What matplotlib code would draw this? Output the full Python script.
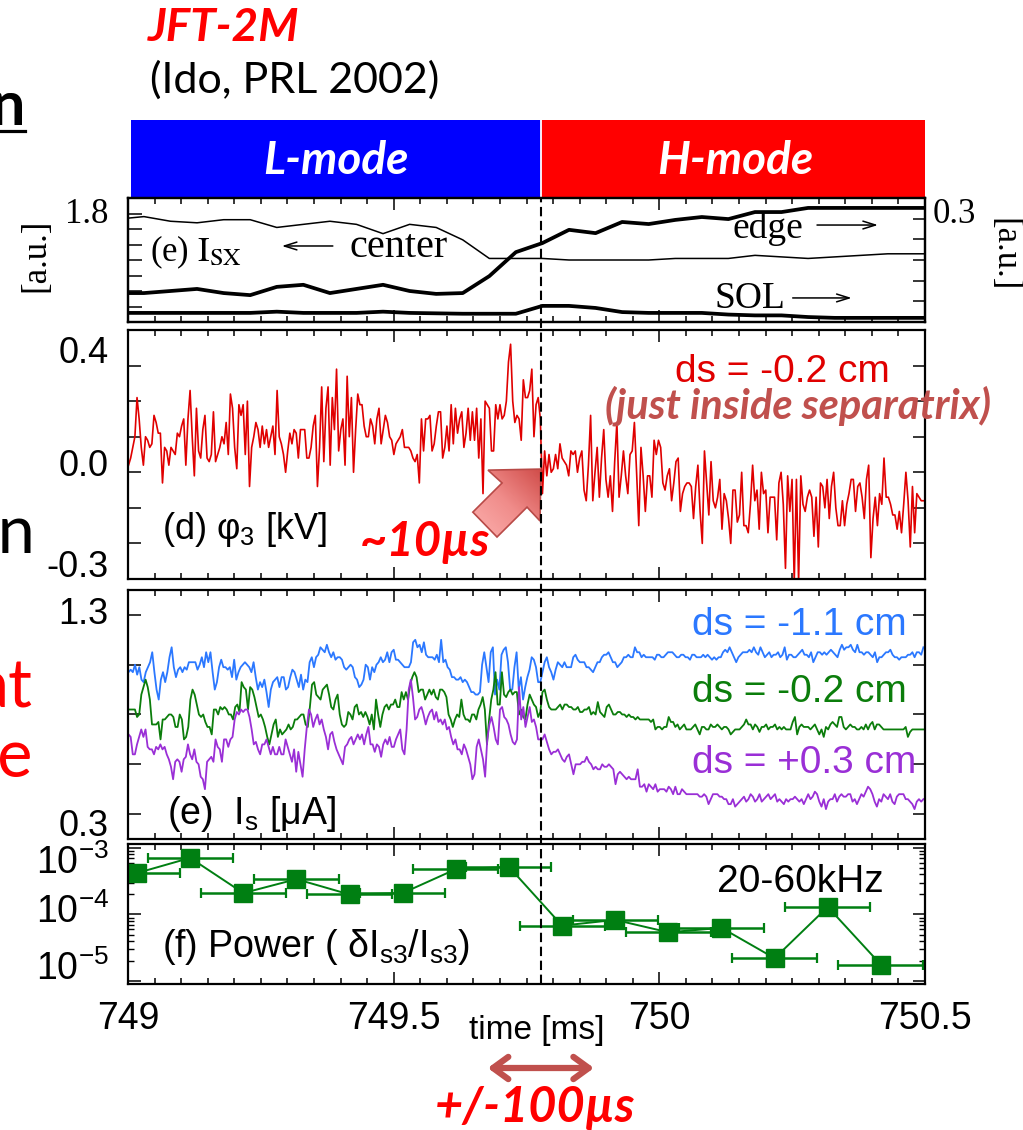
import numpy as np
import matplotlib
matplotlib.use("Agg")
import matplotlib.pyplot as plt
import matplotlib.transforms as mtransforms
from matplotlib.patches import Polygon
from matplotlib.lines import Line2D
from matplotlib.colors import LinearSegmentedColormap
from matplotlib.ticker import MultipleLocator

plt.rcParams['font.family'] = ['Liberation Sans', 'DejaVu Sans']
plt.rcParams['mathtext.fontset'] = 'custom'
plt.rcParams['mathtext.rm'] = 'Liberation Sans'
plt.rcParams['mathtext.it'] = 'Liberation Sans:italic'
plt.rcParams['mathtext.bf'] = 'Liberation Sans:bold'

PPT = ['Lato', 'DejaVu Sans']
SERIF = ['Liberation Serif', 'DejaVu Serif']

t_LH = 749.777   # L-H transition [ms]

# ---- (e) soft x-ray, every ~50 us
t_sx = [749.0, 749.03, 749.08, 749.13, 749.18, 749.23, 749.28, 749.33, 749.38, 749.43,
        749.48, 749.53, 749.58, 749.63, 749.68, 749.73, 749.78, 749.83, 749.88, 749.93,
        749.98, 750.03, 750.08, 750.13, 750.18, 750.23, 750.28, 750.33, 750.38, 750.43, 750.5]
sx_center = [1.67, 1.68, 1.65, 1.64, 1.66, 1.66, 1.61, 1.63, 1.65, 1.63,
             1.57, 1.63, 1.61, 1.53, 1.41, 1.41, 1.41, 1.40, 1.40, 1.40,
             1.40, 1.41, 1.41, 1.41, 1.43, 1.42, 1.41, 1.42, 1.43, 1.44, 1.44]
sx_edge = [0.070, 0.070, 0.075, 0.080, 0.070, 0.065, 0.085, 0.090, 0.070, 0.080,
           0.090, 0.075, 0.068, 0.070, 0.111, 0.169, 0.191, 0.223, 0.215, 0.242,
           0.237, 0.247, 0.254, 0.249, 0.266, 0.266, 0.276, 0.276, 0.276, 0.276, 0.276]
sx_sol = [0.022, 0.022, 0.022, 0.022, 0.022, 0.022, 0.025, 0.022, 0.022, 0.022,
          0.025, 0.022, 0.021, 0.020, 0.020, 0.020, 0.039, 0.039, 0.034, 0.024,
          0.022, 0.022, 0.022, 0.018, 0.016, 0.016, 0.012, 0.010, 0.010, 0.010, 0.010]

# ---- (d) floating potential phi3 [kV], L-mode part and H-mode part
phi3_L = [0.02, 0.04, 0.07, 0.10, 0.21, 0.15, 0.07, 0.02, 0.10, 0.09,
          0.07, 0.08, 0.16, 0.14, 0.11, 0.11, -0.03, 0.07, 0.06, 0.02,
          0.07, 0.06, 0.05, 0.11, 0.10, 0.13, 0.15, 0.02, 0.15, 0.23,
          0.10, -0.01, 0.18, 0.06, 0.04, 0.12, 0.16, 0.04, 0.03, 0.05,
          0.17, 0.03, 0.05, 0.07, 0.10, 0.08, 0.14, 0.05, 0.22, 0.18,
          0.07, 0.01, 0.19, 0.16, 0.19, 0.05, 0.20, -0.04, 0.07, 0.10,
          0.14, 0.12, 0.07, 0.13, 0.08, 0.12, 0.07, 0.10, 0.13, 0.05,
          0.23, 0.10, 0.08, 0.05, 0.00, 0.06, 0.11, 0.08, 0.12, 0.11,
          0.04, 0.12, 0.12, 0.12, 0.04, 0.04, 0.07, 0.13, 0.16, -0.04,
          0.07, 0.24, 0.03, 0.18, 0.24, 0.02, 0.21, 0.12, 0.29, 0.06,
          0.12, 0.15, 0.02, 0.27, 0.10, 0.21, 0.00, 0.12, 0.22, 0.19,
          0.19, 0.13, 0.10, 0.10, 0.15, 0.13, 0.08, 0.15, 0.18, 0.08,
          0.12, 0.16, 0.14, 0.10, 0.09, 0.05, 0.08, 0.09, 0.10, 0.12,
          0.07, 0.07, 0.07, 0.06, 0.04, 0.03, 0.05, -0.03, 0.15, 0.06,
          0.15, 0.15, 0.16, 0.06, 0.08, 0.13, 0.17, 0.17, 0.04, 0.07,
          0.13, 0.06, 0.19, 0.08, 0.18, 0.11, 0.15, 0.17, 0.07, 0.11,
          0.18, 0.09, 0.17, 0.09, 0.18, 0.04, 0.15, -0.06, 0.20, 0.19,
          0.18, 0.06, 0.06, 0.19, 0.15, 0.19, 0.15, 0.16, 0.20, 0.31,
          0.36, 0.20, 0.14, 0.16, 0.15,
          0.09, 0.26, 0.21, 0.21, 0.23, 0.29, 0.10, 0.19, 0.21, 0.15]
phi3_H = [-0.06, 0.06, -0.01, 0.05, 0.00, 0.01, 0.05, 0.01, 0.08, 0.04,
          0.03, 0.02, -0.01, 0.06, 0.05, 0.06, 0.00, 0.04, 0.06, -0.05,
          -0.08, 0.02, 0.16, -0.08, 0.00, 0.07, -0.07, 0.04, 0.12, -0.02,
          -0.07, -0.01, -0.11, 0.03, 0.14, -0.07, -0.01, 0.06, -0.01, -0.06,
          0.05, 0.06, 0.14, 0.00, -0.15, 0.07, -0.01, -0.11, -0.01, -0.01,
          -0.07, 0.09, 0.05, 0.09, 0.07, -0.03, -0.05, -0.01, 0.01, -0.08,
          -0.03, 0.03, 0.04, -0.11, -0.06, -0.04, -0.03, -0.03, -0.04, -0.13,
          -0.04, 0.02, -0.11, -0.20, 0.06, -0.03, -0.12, 0.03, -0.08, -0.10,
          -0.07, -0.02, -0.16, -0.06, -0.08, -0.13, -0.20, -0.05, -0.05, -0.14,
          -0.12, 0.00, -0.15, -0.15, -0.17, -0.09, 0.02, -0.08, -0.05, -0.16,
          0.00, -0.06, -0.05, -0.17, -0.07, -0.07, -0.07, -0.19, -0.03, 0.00,
          -0.09, -0.27, -0.01, -0.11, -0.02, -0.31, -0.02, -0.31, -0.01, -0.09,
          -0.11, -0.07, -0.05, -0.07, -0.18, -0.07, -0.21, -0.03, -0.04, -0.10,
          -0.02, -0.13, -0.04, 0.00, -0.10, -0.15, -0.15, -0.08, -0.15, -0.09,
          -0.06, -0.02, -0.02, -0.11, -0.04, -0.03, -0.07, -0.13, -0.02, 0.02,
          -0.24, -0.13, -0.07, -0.15, -0.06, -0.09, 0.04, -0.07, -0.07, -0.09,
          -0.12, -0.12, -0.16, -0.11, -0.17, -0.09, 0.00, -0.08, -0.21, -0.04,
          -0.17, -0.06, -0.07, -0.08, -0.08]

# ---- (e) ion saturation current Is [uA] at three probe positions
Is_m11_L = [0.97, 0.98, 0.97, 1.00, 0.96, 0.99, 0.94, 0.93, 0.97, 0.99,
            1.01, 1.05, 0.97, 0.90, 0.86, 0.94, 0.97, 0.93, 0.97, 1.03,
            1.07, 0.99, 0.95, 0.98, 0.99, 0.97, 0.99, 0.98, 1.01, 1.01,
            1.01, 1.01, 0.98, 1.00, 1.03, 0.99, 1.05, 1.01, 1.05, 0.97,
            0.90, 0.93, 0.99, 1.02, 0.99, 0.99, 0.98, 0.99, 0.95, 1.02,
            0.94, 0.97, 0.99, 1.00, 1.01, 1.00, 0.99, 0.97, 1.01, 0.95,
            0.90, 0.93, 0.91, 0.94, 0.89, 0.83, 0.90, 0.93, 0.94, 0.95,
            0.91, 0.95, 0.95, 0.90, 0.91, 0.95, 0.98, 0.97, 0.94, 0.91,
            0.96, 0.90, 0.94, 0.93, 1.01, 1.03, 0.99, 1.03, 1.04, 1.07,
            1.06, 1.05, 1.08, 1.05, 1.03, 1.05, 1.02, 1.03, 1.03, 1.02,
            0.99, 0.98, 0.99, 1.00, 0.99, 0.95, 0.94, 0.91, 0.92, 0.94,
            1.00, 0.99, 0.94, 0.99, 0.97, 1.00, 1.01, 1.03, 1.01, 1.02,
            1.05, 1.01, 1.05, 1.06, 1.02, 1.02, 1.01, 1.00, 0.99, 0.99,
            0.99, 1.01, 1.09, 1.10, 1.07, 1.08, 1.05, 1.09, 1.04, 1.03,
            1.03, 1.03, 1.02, 1.04, 1.01, 1.10, 1.01, 1.02, 0.99, 0.98,
            0.95, 0.95, 0.94, 0.94, 0.95, 0.93, 0.94, 0.93, 0.91, 0.89,
            0.89, 0.88, 0.88, 0.89, 1.00, 1.05, 0.99, 0.93, 1.05, 1.07,
            0.88, 0.94, 0.90,
            1.04, 1.06, 1.07, 1.01, 0.90, 0.90, 0.99, 1.05, 0.90, 0.95,
            0.86, 0.91, 0.95, 0.98, 1.03, 1.02, 0.99, 0.93, 0.93]
Is_m11_H = [0.97, 1.01, 1.03, 0.99, 0.97, 0.94, 0.98, 1.01, 1.00, 0.99,
            1.01, 0.99, 0.99, 0.99, 1.03, 1.04, 1.02, 1.01, 1.01, 1.01,
            0.99, 0.99, 0.98, 0.97, 0.99, 1.01, 1.01, 1.03, 1.04, 1.04,
            1.05, 1.03, 1.01, 1.01, 0.99, 1.00, 1.01, 1.03, 1.03, 1.04,
            1.03, 1.03, 1.07, 1.05, 1.05, 1.03, 1.04, 1.03, 1.03, 1.03,
            1.03, 1.02, 1.04, 1.04, 1.03, 1.03, 1.04, 1.05, 1.05, 1.05,
            1.04, 1.03, 1.03, 1.04, 1.04, 1.03, 1.03, 1.02, 1.04, 1.04,
            1.03, 1.03, 1.03, 1.04, 1.03, 1.04, 1.03, 1.02, 1.03, 1.02,
            1.03, 1.03, 1.05, 1.06, 1.05, 1.07, 1.05, 1.03, 1.01, 1.03,
            1.04, 1.05, 1.05, 1.05, 1.06, 1.05, 1.07, 1.05, 1.04, 1.07,
            1.05, 1.03, 1.04, 1.05, 1.03, 1.04, 1.04, 1.05, 1.03, 1.04,
            1.07, 1.02, 1.04, 1.04, 1.03, 1.03, 1.04, 1.05, 1.06, 1.04,
            1.04, 1.03, 1.05, 1.01, 1.03, 1.05, 1.05, 1.04, 1.05, 1.04,
            1.05, 1.06, 1.05, 1.04, 1.03, 1.06, 1.08, 1.06, 1.07, 1.07,
            1.08, 1.06, 1.05, 1.08, 1.05, 1.05, 1.04, 1.05, 1.05, 1.04,
            1.03, 1.05, 1.01, 1.03, 1.03, 1.04, 1.05, 1.05, 1.06, 1.04,
            1.03, 1.03, 1.02, 1.03, 1.03, 1.03, 1.04, 1.04, 1.05, 1.03,
            1.05, 1.05, 1.04, 1.07]
Is_m02_L = [0.82, 0.82, 0.82, 0.82, 0.79, 0.80, 0.88, 0.91, 0.94, 0.91,
            0.86, 0.76, 0.76, 0.76, 0.77, 0.70, 0.78, 0.78, 0.79, 0.80,
            0.80, 0.79, 0.75, 0.75, 0.80, 0.78, 0.70, 0.71, 0.75, 0.86,
            0.90, 0.88, 0.84, 0.80, 0.79, 0.80, 0.77, 0.75, 0.75, 0.72,
            0.82, 0.82, 0.80, 0.83, 0.82, 0.83, 0.82, 0.80, 0.80, 0.78,
            0.83, 0.84, 0.81, 0.93, 0.91, 0.90, 0.82, 0.91, 0.90, 0.87,
            0.83, 0.79, 0.80, 0.78, 0.75, 0.71, 0.68, 0.72, 0.76, 0.78,
            0.71, 0.74, 0.72, 0.73, 0.74, 0.76, 0.74, 0.75, 0.78, 0.78,
            0.79, 0.80, 0.80, 0.76, 0.75, 0.83, 0.92, 0.93, 0.88, 0.87,
            0.86, 0.90, 0.91, 0.92, 0.88, 0.83, 0.82, 0.86, 0.88, 0.80,
            0.76, 0.75, 0.76, 0.81, 0.80, 0.78, 0.83, 0.84, 0.80, 0.81,
            0.79, 0.81, 0.79, 0.76, 0.80, 0.74, 0.86, 0.80, 0.75, 0.80,
            0.83, 0.84, 0.82, 0.84, 0.84, 0.86, 0.83, 0.83, 0.89, 0.86,
            0.89, 0.86, 0.92, 0.95, 0.97, 0.95, 0.89, 0.90, 0.90, 0.86,
            0.88, 0.90, 0.88, 0.90, 0.87, 0.86, 0.90, 0.90, 0.89, 0.87,
            0.80, 0.78, 0.75, 0.78, 0.80, 0.79, 0.86, 0.80, 0.78, 0.78,
            0.77, 0.80, 0.80, 0.78, 0.82, 0.84, 0.87, 0.82, 0.68, 0.78,
            0.86, 0.90, 0.97, 0.84, 0.84,
            0.97, 0.88, 0.87, 0.89, 0.90, 0.88, 0.89, 0.89, 0.80, 0.82,
            0.79, 0.78, 0.84, 0.88, 0.86, 0.84, 0.83, 0.79, 0.81]
Is_m02_H = [0.89, 0.90, 0.86, 0.83, 0.82, 0.82, 0.82, 0.83, 0.84, 0.82,
            0.84, 0.84, 0.83, 0.83, 0.82, 0.82, 0.83, 0.81, 0.81, 0.82,
            0.82, 0.83, 0.80, 0.81, 0.80, 0.85, 0.81, 0.80, 0.79, 0.83,
            0.84, 0.82, 0.80, 0.80, 0.81, 0.81, 0.80, 0.80, 0.79, 0.80,
            0.79, 0.79, 0.78, 0.79, 0.78, 0.78, 0.78, 0.78, 0.78, 0.77,
            0.78, 0.74, 0.75, 0.75, 0.74, 0.75, 0.75, 0.79, 0.77, 0.77,
            0.75, 0.76, 0.74, 0.75, 0.76, 0.74, 0.74, 0.74, 0.75, 0.76,
            0.74, 0.72, 0.75, 0.75, 0.74, 0.74, 0.76, 0.75, 0.75, 0.76,
            0.75, 0.74, 0.75, 0.75, 0.74, 0.72, 0.73, 0.74, 0.74, 0.74,
            0.75, 0.76, 0.78, 0.76, 0.76, 0.74, 0.76, 0.75, 0.73, 0.75,
            0.75, 0.76, 0.74, 0.75, 0.75, 0.76, 0.74, 0.75, 0.74, 0.75,
            0.74, 0.74, 0.74, 0.77, 0.79, 0.72, 0.75, 0.76, 0.75, 0.75,
            0.75, 0.74, 0.75, 0.76, 0.74, 0.72, 0.74, 0.71, 0.75, 0.74,
            0.76, 0.77, 0.76, 0.75, 0.79, 0.79, 0.75, 0.74, 0.75, 0.76,
            0.75, 0.75, 0.74, 0.74, 0.75, 0.74, 0.76, 0.74, 0.76, 0.77,
            0.74, 0.76, 0.76, 0.75, 0.74, 0.74, 0.74, 0.74, 0.74, 0.74,
            0.74, 0.74, 0.74, 0.74, 0.75, 0.71, 0.73, 0.74, 0.74, 0.74,
            0.74, 0.74, 0.74]
Is_p03_L = [0.72, 0.71, 0.64, 0.64, 0.68, 0.71, 0.74, 0.71, 0.74, 0.67,
            0.66, 0.66, 0.64, 0.67, 0.66, 0.68, 0.66, 0.67, 0.64, 0.62,
            0.59, 0.54, 0.61, 0.62, 0.61, 0.57, 0.62, 0.63, 0.68, 0.64,
            0.62, 0.66, 0.61, 0.60, 0.55, 0.54, 0.50, 0.61, 0.62, 0.63,
            0.61, 0.70, 0.67, 0.66, 0.61, 0.70, 0.70, 0.67, 0.70, 0.71,
            0.78, 0.81, 0.80, 0.82, 0.81, 0.82, 0.82, 0.79, 0.74, 0.68,
            0.69, 0.66, 0.64, 0.68, 0.68, 0.70, 0.67, 0.64, 0.67, 0.64,
            0.64, 0.67, 0.64, 0.64, 0.70, 0.67, 0.64, 0.61, 0.66, 0.57,
            0.65, 0.60, 0.55, 0.66, 0.75, 0.82, 0.80, 0.75, 0.78, 0.80,
            0.76, 0.78, 0.74, 0.71, 0.66, 0.72, 0.73, 0.69, 0.66, 0.64,
            0.62, 0.60, 0.67, 0.68, 0.70, 0.71, 0.68, 0.70, 0.72, 0.70,
            0.72, 0.68, 0.72, 0.75, 0.68, 0.68, 0.65, 0.68, 0.67, 0.63,
            0.68, 0.70, 0.68, 0.71, 0.67, 0.67, 0.70, 0.72, 0.74, 0.66,
            0.64, 0.74, 0.90, 0.94, 0.87, 0.78, 0.79, 0.82, 0.83, 0.80,
            0.76, 0.79, 0.81, 0.82, 0.78, 0.81, 0.77, 0.78, 0.76, 0.78,
            0.74, 0.75, 0.71, 0.68, 0.70, 0.66, 0.66, 0.64, 0.68, 0.66,
            0.63, 0.60, 0.54, 0.56, 0.67, 0.70, 0.66, 0.62, 0.55, 0.70,
            0.76, 0.79, 0.75, 0.70, 0.68,
            0.82, 0.83, 0.79, 0.78, 0.76, 0.72, 0.69, 0.68, 0.70, 0.91,
            0.78, 0.83, 0.75, 0.79, 0.83, 0.77, 0.78, 0.75, 0.70, 0.70]
Is_p03_H = [0.70, 0.72, 0.69, 0.66, 0.64, 0.65, 0.65, 0.66, 0.64, 0.62,
            0.61, 0.63, 0.64, 0.60, 0.56, 0.60, 0.60, 0.60, 0.61, 0.61,
            0.63, 0.61, 0.60, 0.58, 0.59, 0.58, 0.58, 0.60, 0.59, 0.59,
            0.60, 0.59, 0.58, 0.52, 0.56, 0.57, 0.56, 0.55, 0.54, 0.55,
            0.54, 0.54, 0.54, 0.58, 0.51, 0.51, 0.52, 0.49, 0.52, 0.51,
            0.50, 0.52, 0.49, 0.50, 0.50, 0.50, 0.49, 0.51, 0.50, 0.48,
            0.51, 0.48, 0.48, 0.50, 0.49, 0.48, 0.48, 0.48, 0.48, 0.48,
            0.48, 0.47, 0.47, 0.48, 0.47, 0.44, 0.46, 0.48, 0.48, 0.48,
            0.47, 0.47, 0.46, 0.46, 0.44, 0.44, 0.46, 0.43, 0.44, 0.45,
            0.46, 0.47, 0.45, 0.46, 0.48, 0.47, 0.45, 0.46, 0.48, 0.45,
            0.46, 0.47, 0.48, 0.46, 0.47, 0.48, 0.45, 0.46, 0.45, 0.44,
            0.46, 0.45, 0.46, 0.46, 0.47, 0.46, 0.45, 0.46, 0.44, 0.46,
            0.48, 0.46, 0.47, 0.49, 0.48, 0.45, 0.43, 0.46, 0.42, 0.45,
            0.46, 0.46, 0.48, 0.45, 0.47, 0.48, 0.47, 0.47, 0.48, 0.48,
            0.45, 0.46, 0.44, 0.46, 0.48, 0.47, 0.49, 0.51, 0.50, 0.48,
            0.45, 0.43, 0.46, 0.45, 0.48, 0.47, 0.46, 0.48, 0.45, 0.44,
            0.47, 0.48, 0.48, 0.48, 0.46, 0.46, 0.45, 0.44, 0.42, 0.45,
            0.46, 0.45, 0.46]

# ---- (f) fluctuation power of Is3 (20-60 kHz), 200 us windows
t_pow = [749.017, 749.117, 749.217, 749.317, 749.417, 749.517, 749.617, 749.717,
         749.817, 749.917, 750.017, 750.117, 750.217, 750.317, 750.417]
pow_val = [4.2e-4, 7.1e-4, 2.1e-4, 3.4e-4, 2.0e-4, 2.1e-4, 4.8e-4, 5.2e-4,
           6.8e-5, 8.3e-5, 5.4e-5, 6.3e-5, 2.2e-5, 1.3e-4, 1.76e-5]
pow_xerr = 0.08


def seg_time(vals, t0, t1):
    # sample times of an evenly sampled record
    return np.linspace(t0, t1, len(vals))


def join(L, H):
    t = np.concatenate([seg_time(L, 749.001, 749.776), seg_time(H, 749.780, 750.497)])
    return t, np.concatenate([L, H])


W_PX, H_PX = 1023, 1130
fig = plt.figure(figsize=(W_PX / 100, H_PX / 100), dpi=100)
fig.patch.set_facecolor('white')


def box(top, bottom, left=128, right=925):
    return [left / W_PX, 1 - bottom / H_PX, (right - left) / W_PX, (bottom - top) / H_PX]


ax_band = fig.add_axes(box(120, 197))
ax_sx = fig.add_axes(box(198, 322))
ax_d = fig.add_axes(box(330, 579))
ax_e = fig.add_axes(box(590, 839))
ax_f = fig.add_axes(box(844, 984))


def style(ax, ylen=9):
    ax.set_xlim(749, 750.5)
    ax.set_xticks([749, 749.5, 750, 750.5])
    ax.xaxis.set_minor_locator(MultipleLocator(0.05))
    ax.tick_params(which='both', direction='in', top=True, right=True, width=1.1,
                   labelbottom=False, labelleft=False)
    ax.tick_params(axis='x', which='major', length=8.5)
    ax.tick_params(axis='x', which='minor', length=4.3)
    ax.tick_params(axis='y', which='major', length=ylen)
    for s in ax.spines.values():
        s.set_linewidth(1.6)


def ylab(ax, s, y, va, side='left', size=26, **kw):
    x = -0.024 if side == 'left' else 1.009
    ax.text(x, y, s, transform=ax.transAxes, ha='right' if side == 'left' else 'left',
            va=va, fontsize=size, **kw)


# ---- band L-mode / H-mode
ax_band.set_xlim(749, 750.5)
ax_band.set_ylim(0, 1)
ax_band.axvspan(749.005, t_LH, color='#0000ff', lw=0)
ax_band.axvspan(t_LH, 750.5, color='#ff0000', lw=0)
ax_band.axvline(t_LH, color='white', lw=1.3)
ax_band.axis('off')
ax_band.text(0.261, 0.47, 'L-mode', transform=ax_band.transAxes, color='white', fontsize=33,
             fontweight='bold', fontstyle='italic', family=PPT, ha='center', va='center')
ax_band.text(0.762, 0.47, 'H-mode', transform=ax_band.transAxes, color='white', fontsize=33,
             fontweight='bold', fontstyle='italic', family=PPT, ha='center', va='center')

# ---- Isx panel
style(ax_sx, ylen=10)
ax_sx.tick_params(axis='y', right=False)
ax_sx.plot(t_sx, sx_center, color='k', lw=1.1)
ax_sx.set_ylim(1.0, 1.8)
ax_sx.set_yticks([1.0, 1.1, 1.2, 1.3, 1.4, 1.5, 1.6, 1.7, 1.8])
ax_sx2 = ax_sx.twinx()
ax_sx2.plot(t_sx, sx_edge, color='k', lw=2.7)
ax_sx2.plot(t_sx, sx_sol, color='k', lw=2.7)
ax_sx2.set_ylim(0, 0.3)
ax_sx2.set_yticks([0.05, 0.1, 0.15, 0.2, 0.25, 0.3])
ax_sx2.tick_params(axis='y', direction='in', length=8.5, width=1.1, labelright=False)
for s in ax_sx2.spines.values():
    s.set_linewidth(1.6)
ylab(ax_sx, '1.8', 1.0, 'top', size=25, family=SERIF)
ylab(ax_sx, '0.3', 1.0, 'top', side='right', size=25, family=SERIF)
fig.text(36 / W_PX, 1 - 255 / H_PX, '[a.u.]', rotation=90, fontsize=25, family=SERIF,
         ha='center', va='center')
fig.text(1004 / W_PX, 1 - 255 / H_PX, '[a.u.]', rotation=-90, fontsize=25, family=SERIF,
         ha='center', va='center')
ax_sx.text(0.027, 0.486, r'(e) $\mathrm{I_{SX}}$', transform=ax_sx.transAxes, fontsize=25,
           family=SERIF, math_fontfamily='stix', va='baseline')
ax_sx.text(0.2785, 0.524, 'center', transform=ax_sx.transAxes, fontsize=29, family=SERIF,
           va='baseline')
ax_sx.text(0.759, 0.677, 'edge', transform=ax_sx.transAxes, fontsize=27, family=SERIF,
           va='baseline')
ax_sx.text(0.7365, 0.11, 'SOL', transform=ax_sx.transAxes, fontsize=27, family=SERIF,
           va='baseline')
arr = dict(arrowstyle='->,head_length=0.9,head_width=0.28', lw=1.1, color='k',
           shrinkA=0, shrinkB=0)
ax_sx.annotate('', xy=(0.193, 0.613), xytext=(0.257, 0.613), xycoords='axes fraction',
               arrowprops=arr)
ax_sx.annotate('', xy=(0.941, 0.782), xytext=(0.8645, 0.782), xycoords='axes fraction',
               arrowprops=arr)
ax_sx.annotate('', xy=(0.908, 0.194), xytext=(0.834, 0.194), xycoords='axes fraction',
               arrowprops=arr)

# ---- phi3 panel
style(ax_d, ylen=9)
t_phi, phi3 = join(phi3_L, phi3_H)
ax_d.plot(t_phi, phi3, color='#e00000', lw=1.2)
ax_d.set_ylim(-0.3, 0.4)
ax_d.set_yticks([-0.3, -0.2, -0.1, 0.0, 0.1, 0.2, 0.3, 0.4])
ylab(ax_d, '0.4', 0.975, 'top')
ylab(ax_d, '0.0', 0.45, 'center')
ylab(ax_d, '-0.3', -0.025, 'bottom')
ax_d.text(0.043, 0.20, r'(d) $\mathregular{φ_3}$ [kV]', transform=ax_d.transAxes,
          fontsize=26, va='center')
ax_d.text(0.686, 0.83, 'ds = -0.2 cm', transform=ax_d.transAxes, fontsize=28,
          color='#e00000', va='center')
ax_d.text(0.841, 0.695, '(just inside separatrix)', transform=ax_d.transAxes, fontsize=30,
          color='#c0504d', fontweight='bold', fontstyle='italic', family=PPT,
          ha='center', va='center')
ax_d.text(0.373, 0.149, '~10µs', transform=ax_d.transAxes, fontsize=34, color='#ff0000',
          fontweight='bold', fontstyle='italic', family=PPT, ha='center', va='center')

# big pink block arrow pointing at the transition
arrow_t = [749.777, 749.6776, 749.704, 749.649, 749.6945, 749.751, 749.7755]
arrow_v = [0.009, 0.006, -0.030, -0.112, -0.182, -0.098, -0.137]
poly = Polygon(np.column_stack([arrow_t, arrow_v]), closed=True, facecolor='none',
               edgecolor='#b84a47', lw=1.2, zorder=6)
ax_d.add_patch(poly)
grad = np.add.outer(np.linspace(0, 1, 60), np.linspace(0, 1, 60)) / 2
pink = LinearSegmentedColormap.from_list('pink', ['#fcb0ae', '#f08c8a', '#d04c49'])
im = ax_d.imshow(grad, extent=[min(arrow_t), max(arrow_t), min(arrow_v), max(arrow_v)],
                 origin='lower', cmap=pink, aspect='auto', zorder=5)
im.set_clip_path(poly)
ax_d.set_xlim(749, 750.5)
ax_d.set_ylim(-0.3, 0.4)

# ---- Is panel
style(ax_e, ylen=9)
for L, H, c in [(Is_m11_L, Is_m11_H, '#2b78ff'), (Is_m02_L, Is_m02_H, '#0b7d0b'),
                (Is_p03_L, Is_p03_H, '#9a2fd6')]:
    t_is, v_is = join(L, H)
    ax_e.plot(t_is, v_is, color=c, lw=1.3)
ax_e.set_ylim(0.3, 1.3)
ax_e.set_yticks([0.4, 0.6, 0.8, 1.0, 1.2])
ylab(ax_e, '1.3', 0.97, 'top')
ylab(ax_e, '0.3', -0.02, 'bottom')
ax_e.text(0.708, 0.859, 'ds = -1.1 cm', transform=ax_e.transAxes, fontsize=28,
          color='#2b78ff', va='center')
ax_e.text(0.708, 0.59, 'ds = -0.2 cm', transform=ax_e.transAxes, fontsize=28,
          color='#0b7d0b', va='center')
ax_e.text(0.708, 0.305, 'ds = +0.3 cm', transform=ax_e.transAxes, fontsize=28,
          color='#9a2fd6', va='center')
ax_e.text(0.049, 0.10, r'(e)  $\mathregular{I_s}$ [μA]', transform=ax_e.transAxes,
          fontsize=27, va='center')

# ---- power panel
style(ax_f, ylen=9)
ax_f.set_yscale('log')
ax_f.errorbar(t_pow, pow_val, xerr=pow_xerr, fmt='s-', color='#007f12', ms=13, lw=1.4,
              elinewidth=1.8, capsize=3.5, capthick=1.6)
ax_f.set_ylim(10 ** -5.045, 10 ** -2.94)
ax_f.set_xlim(749, 750.5)
ax_f.tick_params(axis='y', which='minor', length=4.5, direction='in', left=True, right=True,
                 width=1.0, labelleft=False)
ax_f.tick_params(axis='x', which='major', labelbottom=True, labelsize=27, pad=12)
ax_f.set_xticklabels(['749', '749.5', '750', '750.5'])
ylab(ax_f, r'$\mathregular{10^{-3}}$', 1.0, 'top', size=27)
ylab(ax_f, r'$\mathregular{10^{-4}}$', 0.514, 'center', size=27)
ylab(ax_f, r'$\mathregular{10^{-5}}$', -0.03, 'bottom', size=27)
ax_f.text(0.043, 0.264, r'(f) Power ( $\mathregular{δI_{s3}/I_{s3}}$)', transform=ax_f.transAxes,
          fontsize=27, va='center')
ax_f.text(0.739, 0.729, '20-60kHz', transform=ax_f.transAxes, fontsize=28, va='center')

# dashed line marking the transition through all panels
trans = mtransforms.blended_transform_factory(ax_f.transData, fig.transFigure)
y_bot = ax_f.get_position().y0
y_top = ax_sx.get_position().y1
fig.add_artist(Line2D([t_LH, t_LH], [y_bot, y_top], transform=trans, color='k', lw=1.5,
                      linestyle=(0, (4.5, 2.2)), zorder=10))

fig.text(537 / W_PX, 1 - 1030 / H_PX, 'time [ms]', fontsize=24, ha='center', va='center')

# +/-100 us double arrow under the time axis
ax_f.annotate('', xy=(t_LH + 0.1, 1 - 1068 / H_PX), xytext=(t_LH - 0.1, 1 - 1068 / H_PX),
              xycoords=trans, annotation_clip=False,
              arrowprops=dict(arrowstyle='<->,head_length=1.1,head_width=0.8', lw=4.5,
                              color='#c0504d', shrinkA=0, shrinkB=0))
ax_f.text(t_LH - 0.01, 1 - 1108 / H_PX, '+/-100µs', transform=trans, fontsize=35,
          color='#ff0000', fontweight='bold', fontstyle='italic', family=PPT,
          ha='center', va='center')

# ---- slide header and cut-off slide text on the left
fig.text(148 / W_PX, 1 - 28 / H_PX, 'JFT-2M', color='#ff0000', fontsize=33, fontweight='bold',
         fontstyle='italic', family=PPT, va='center')
fig.text(150 / W_PX, 1 - 80 / H_PX, '(Ido, PRL 2002)', fontsize=31, family=PPT, va='center')
fig.text(25 / W_PX, 1 - 125 / H_PX, 'n', fontsize=44, fontweight='bold', family=PPT,
         ha='right', va='baseline')
fig.add_artist(Line2D([0, 25 / W_PX], [1 - 131 / H_PX] * 2, color='k', lw=2.3))
fig.text(35 / W_PX, 1 - 553 / H_PX, 'on', fontsize=48, family=PPT, ha='right', va='baseline')
fig.text(33 / W_PX, 1 - 707 / H_PX, 'at', fontsize=48, color='#ff0000', family=PPT,
         ha='right', va='baseline')
fig.text(33 / W_PX, 1 - 777 / H_PX, 'ne', fontsize=48, color='#ff0000', family=PPT,
         ha='right', va='baseline')

fig.savefig('out.png', dpi=100)
